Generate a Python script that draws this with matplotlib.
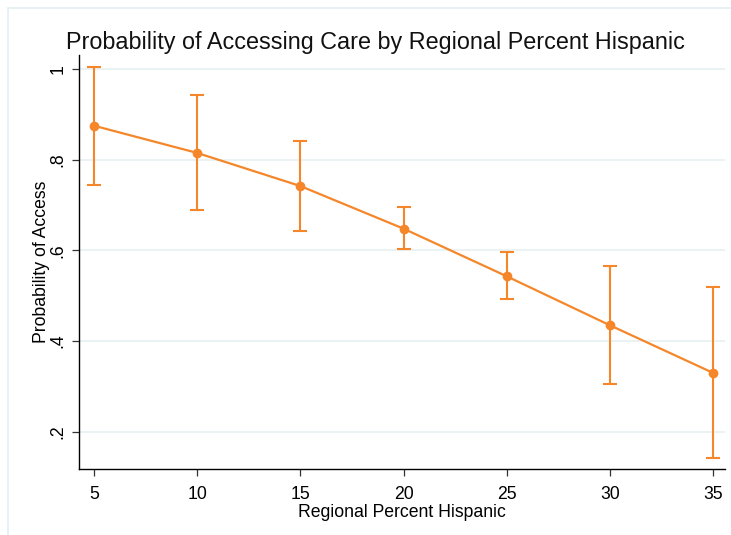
import matplotlib
matplotlib.use("Agg")
import matplotlib.pyplot as plt
from matplotlib.patches import Rectangle

pct_hispanic = [5, 10, 15, 20, 25, 30, 35]
prob_access = [0.875, 0.815, 0.742, 0.648, 0.543, 0.435, 0.330]
ci_low = [0.745, 0.690, 0.643, 0.603, 0.492, 0.306, 0.143]
ci_high = [1.005, 0.942, 0.842, 0.695, 0.597, 0.565, 0.520]
x_ticks = [5, 10, 15, 20, 25, 30, 35]
y_ticks = [0.2, 0.4, 0.6, 0.8, 1.0]
y_ticklabels = [".2", ".4", ".6", ".8", "1"]

plt.rcParams['font.family'] = ['Liberation Sans', 'DejaVu Sans']
W, H = 731, 535
fig = plt.figure(figsize=(W / 100, H / 100), dpi=100)
fig.patch.set_facecolor('white')

# outer light frame (only top and left edges visible)
fig.patches.append(Rectangle((8 / W, -0.1), 1.2, 1.1 - 8.5 / H, transform=fig.transFigure,
                             fill=False, edgecolor='#e3eef1', linewidth=1.2))

left, right, bottom, top = 79, 725, 469, 55
ax = fig.add_axes([left / W, 1 - bottom / H, (right - left) / W, (bottom - top) / H])

orange = '#f5872a'
lower_err = [p - l for p, l in zip(prob_access, ci_low)]
upper_err = [h - p for p, h in zip(prob_access, ci_high)]
ax.errorbar(pct_hispanic, prob_access, yerr=[lower_err, upper_err], color=orange,
            marker='o', markersize=6, linewidth=1.6, elinewidth=1.5, capsize=5, capthick=1.5,
            zorder=3)

ax.set_xlim(4.27, 35.58)
ax.set_ylim(0.118, 1.031)
ax.set_xticks(x_ticks)
ax.set_xticklabels([str(v) for v in x_ticks])
ax.set_yticks(y_ticks)
ax.set_yticklabels(y_ticklabels, rotation=90, va='center')
ax.grid(axis='y', color='#e6f0f2', linewidth=1.2, zorder=0)
ax.set_axisbelow(True)

for s in ['top', 'right']:
    ax.spines[s].set_visible(False)
for s in ['left', 'bottom']:
    ax.spines[s].set_color('black')
    ax.spines[s].set_linewidth(1.0)
ax.tick_params(axis='both', labelsize=12.7, length=5, width=0.9, color='#333333')
ax.tick_params(axis='x', pad=7)
ax.tick_params(axis='y', pad=4)

ax.set_xlabel('Regional Percent Hispanic', fontsize=12.7, labelpad=1)
ax.set_ylabel('Probability of Access', fontsize=12.7, labelpad=0)

fig.text(375 / W, 1 - 42 / H, 'Probability of Accessing Care by Regional Percent Hispanic',
         ha='center', va='center', fontsize=16.8, color='#111111')

fig.savefig('out.png', dpi=100, facecolor='white')
